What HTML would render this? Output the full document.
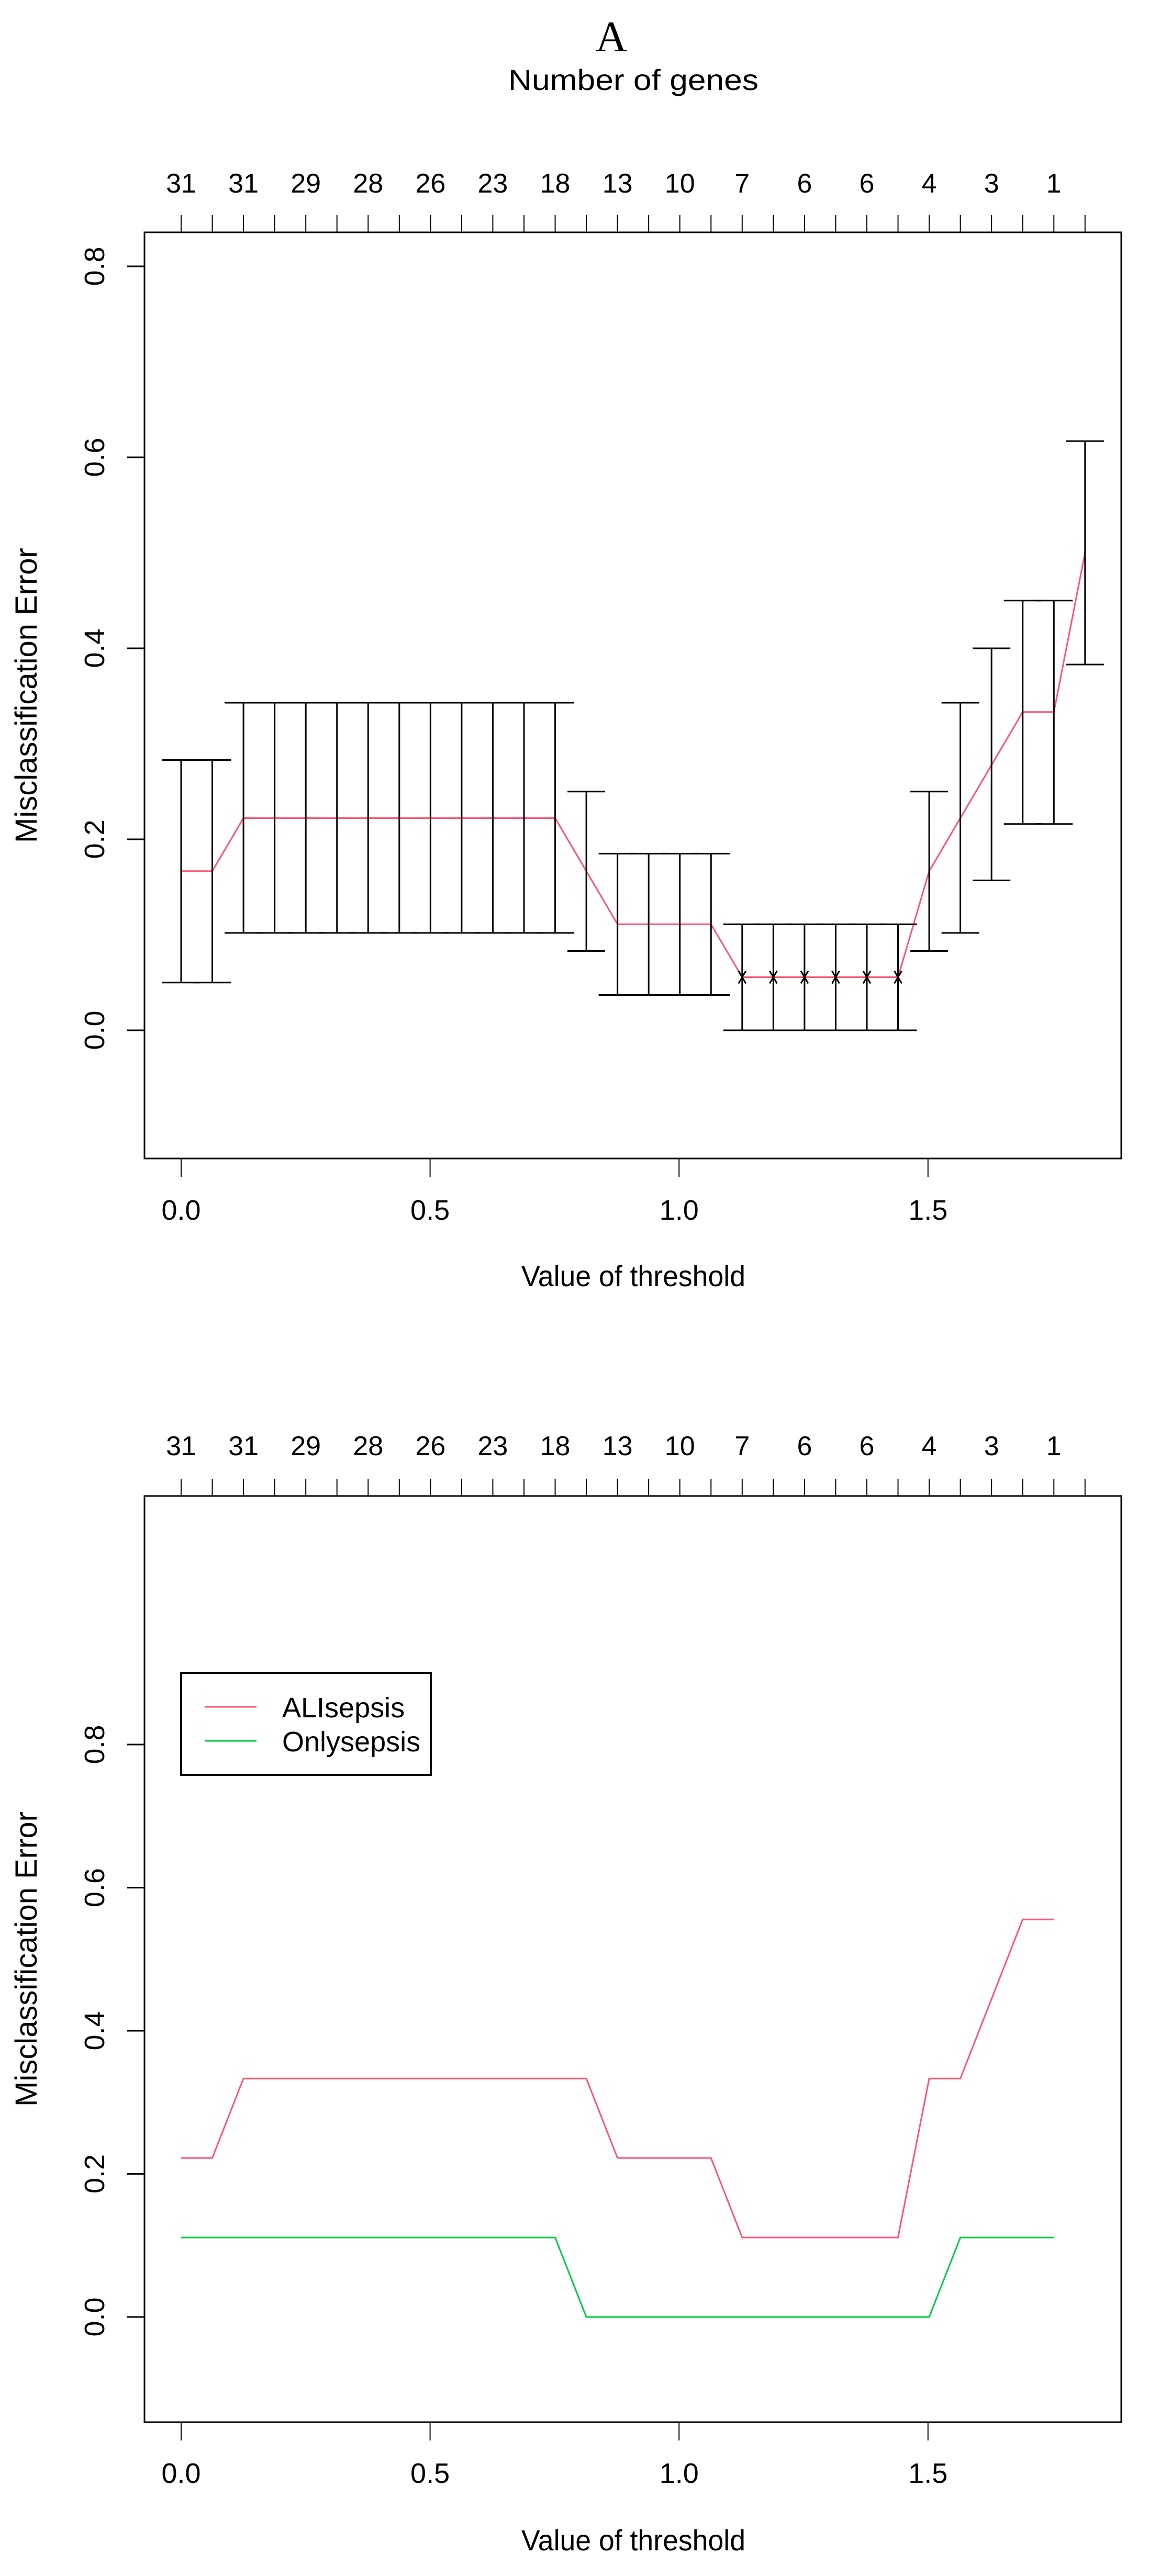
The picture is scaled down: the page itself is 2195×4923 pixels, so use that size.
<!DOCTYPE html>
<html><head><meta charset="utf-8"><style>
html,body{margin:0;padding:0;background:#fff}
svg{display:block}
text{font-family:"Liberation Sans",sans-serif;fill:#000}
</style></head><body>
<svg id="chart" width="2195" height="4923" viewBox="0 0 2195 4923" xmlns="http://www.w3.org/2000/svg">
<text x="1168" y="98" text-anchor="middle" style="font-family:'Liberation Serif',serif;font-size:84px">A</text>
<text x="1210" y="172" text-anchor="middle" font-size="56" textLength="478" lengthAdjust="spacingAndGlyphs">Number of genes</text>
</svg>
<script>
const geneLabels = [31,31,29,28,26,23,18,13,10,7,6,6,4,3,1];
const thresholds = [0,0.0626,0.1252,0.1878,0.2504,0.313,0.3756,0.4382,0.5008,0.5634,0.626,0.6886,0.7512,0.8138,0.8764,0.939,1.0016,1.0642,1.1268,1.1894,1.252,1.3146,1.3772,1.4398,1.5024,1.565,1.6276,1.6902,1.7528,1.8154];
const meanErr = [0.1667,0.1667,0.2222,0.2222,0.2222,0.2222,0.2222,0.2222,0.2222,0.2222,0.2222,0.2222,0.2222,0.1667,0.1111,0.1111,0.1111,0.1111,0.0556,0.0556,0.0556,0.0556,0.0556,0.0556,0.1667,0.2222,0.2778,0.3333,0.3333,0.5];
const errLow = [0.05,0.05,0.102,0.102,0.102,0.102,0.102,0.102,0.102,0.102,0.102,0.102,0.102,0.083,0.037,0.037,0.037,0.037,0,0,0,0,0,0,0.083,0.102,0.157,0.216,0.216,0.383];
const errHigh = [0.283,0.283,0.343,0.343,0.343,0.343,0.343,0.343,0.343,0.343,0.343,0.343,0.343,0.25,0.185,0.185,0.185,0.185,0.111,0.111,0.111,0.111,0.111,0.111,0.25,0.343,0.40,0.45,0.45,0.617];
const minIdx = [18,19,20,21,22,23];
const aliSepsis = [0.2222,0.2222,0.3333,0.3333,0.3333,0.3333,0.3333,0.3333,0.3333,0.3333,0.3333,0.3333,0.3333,0.3333,0.2222,0.2222,0.2222,0.2222,0.1111,0.1111,0.1111,0.1111,0.1111,0.1111,0.3333,0.3333,0.4444,0.5556,0.5556];
const onlySepsis = [0.1111,0.1111,0.1111,0.1111,0.1111,0.1111,0.1111,0.1111,0.1111,0.1111,0.1111,0.1111,0.1111,0,0,0,0,0,0,0,0,0,0,0,0,0.1111,0.1111,0.1111,0.1111];
const xTicks = [0,0.5,1.0,1.5];
const xTickLabels = ["0.0","0.5","1.0","1.5"];
const yTicks = [0,0.2,0.4,0.6,0.8];
const yTickLabels = ["0.0","0.2","0.4","0.6","0.8"];

const svg = document.getElementById('chart');
const NS = 'http://www.w3.org/2000/svg';
function mk(tag, attrs, parent){const e=document.createElementNS(NS,tag);for(const k in attrs)e.setAttribute(k,attrs[k]);(parent||svg).appendChild(e);return e;}
const L=276,R=2142;
const xs = v => 346 + v*951.2;
const RED='#FF5573', GREEN='#00CC44';

function panel(top,bottom,y0,yUnit,name,topLabY,botLabY,titleY){
  const ys = v => y0 - v*yUnit;
  const g = mk('g',{});
  
  
  const box = mk('rect',{x:L,y:top,width:R-L,height:bottom-top,fill:'none',stroke:'#000','stroke-width':3},g);
  
  
  // top gene ticks
  for(let i=0;i<thresholds.length;i++){
    const t = mk('line',{x1:xs(thresholds[i]),x2:xs(thresholds[i]),y1:top-33,y2:top,stroke:'#000','stroke-width':2},g);
    
    
  }
  for(let j=0;j<geneLabels.length;j++){
    const t = mk('text',{x:xs(thresholds[j*2]),y:topLabY,'text-anchor':'middle','font-size':52},g);
    
    
    t.textContent = geneLabels[j];
  }
  // x axis
  for(let j=0;j<xTicks.length;j++){
    const t = mk('line',{x1:xs(xTicks[j]),x2:xs(xTicks[j]),y1:bottom,y2:bottom+35,stroke:'#000','stroke-width':2},g);
    
    
    const l = mk('text',{x:xs(xTicks[j]),y:botLabY,'text-anchor':'middle','font-size':54},g);
    
    
    l.textContent = xTickLabels[j];
  }
  const xt = mk('text',{x:1210,y:titleY,'text-anchor':'middle','font-size':56,textLength:428,lengthAdjust:'spacingAndGlyphs'},g);
  
  
  xt.textContent='Value of threshold';
  // y axis
  for(let j=0;j<yTicks.length;j++){
    const y=ys(yTicks[j]);
    const t = mk('line',{x1:243,x2:L,y1:y,y2:y,stroke:'#000','stroke-width':3},g);
    
    
    const l = mk('text',{x:199,y:y,'text-anchor':'middle','font-size':54,transform:`rotate(-90 199 ${y})`},g);
    
    
    l.textContent = yTickLabels[j];
  }
  const ymid=(top+bottom)/2;
  const yt = mk('text',{x:70,y:ymid,'text-anchor':'middle','font-size':58,transform:`rotate(-90 70 ${ymid})`},g);
  
  
  yt.textContent='Misclassification Error';
  return ys;
}

// Top panel
const ysA = panel(444,2214,1969,1825,'panel-a',368,2331,2458);
const ptsA = meanErr.map((v,i)=>xs(thresholds[i])+','+ysA(v)).join(' ');
const la = mk('polyline',{points:ptsA,fill:'none',stroke:RED,'stroke-width':3});


for(let i=0;i<meanErr.length;i++){
  const x=xs(thresholds[i]);
  const g=mk('g',{stroke:'#000','stroke-width':3});
  
  
  mk('line',{x1:x,x2:x,y1:ysA(errLow[i]),y2:ysA(errHigh[i])},g);
  mk('line',{x1:x-36,x2:x+36,y1:ysA(errLow[i]),y2:ysA(errLow[i])},g);
  mk('line',{x1:x-36,x2:x+36,y1:ysA(errHigh[i]),y2:ysA(errHigh[i])},g);
}
for(const i of minIdx){
  const x=xs(thresholds[i]), y=ysA(meanErr[i]);
  const m=mk('path',{d:`M${x-7},${y-12}L${x+7},${y+12}M${x+7},${y-12}L${x-7},${y+12}`,stroke:'#000','stroke-width':3});
  
  
}

// Bottom panel
const ysB = panel(2859,4629,4428,1367.5,'panel-b',2781,4745,4874);
const lb1 = mk('polyline',{points:aliSepsis.map((v,i)=>xs(thresholds[i])+','+ysB(v)).join(' '),fill:'none',stroke:RED,'stroke-width':3});


const lb2 = mk('polyline',{points:onlySepsis.map((v,i)=>xs(thresholds[i])+','+ysB(v)).join(' '),fill:'none',stroke:GREEN,'stroke-width':3});



// Legend
const lg = mk('g',{});


mk('rect',{x:346,y:3197,width:477,height:195,fill:'#fff',stroke:'#000','stroke-width':4},lg);
const e1=mk('g',{},lg);


mk('line',{x1:392,x2:490,y1:3262,y2:3262,stroke:RED,'stroke-width':3},e1);
const t1=mk('text',{x:539,y:3282,'font-size':54},e1); t1.textContent='ALIsepsis';
const e2=mk('g',{},lg);


mk('line',{x1:392,x2:490,y1:3327,y2:3327,stroke:GREEN,'stroke-width':3},e2);
const t2=mk('text',{x:539,y:3347,'font-size':54},e2); t2.textContent='Onlysepsis';
</script>
</body></html>
